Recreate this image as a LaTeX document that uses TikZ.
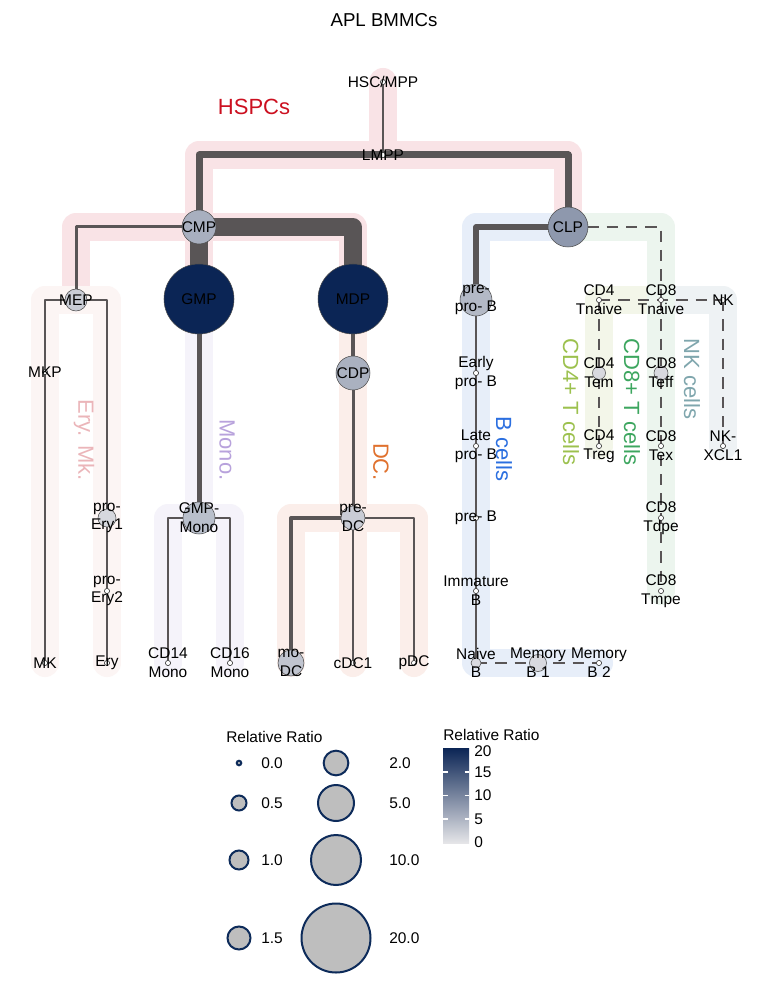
\documentclass[tikz,border=0pt]{standalone}
\usepackage{fontspec}
\setmainfont{Liberation Sans}
\pgfdeclarelayer{bg}
\pgfdeclarelayer{bands}
\pgfdeclarelayer{edges}
\pgfsetlayers{bg,bands,edges,main}
\definecolor{nv}{HTML}{0B2555}
\definecolor{lg}{HTML}{E5E5E8}
\definecolor{edgec}{HTML}{595556}
\definecolor{bHSPC}{HTML}{F9E3E6}
\definecolor{bEry}{HTML}{FCF5F4}
\definecolor{bMono}{HTML}{F5F3FA}
\definecolor{bDC}{HTML}{FBEEEA}
\definecolor{bB}{HTML}{E7EEF9}
\definecolor{bCDe}{HTML}{ECF5EE}
\definecolor{bCDf}{HTML}{F3F6E9}
\definecolor{bNK}{HTML}{EEF2F4}
\definecolor{cHSPC}{HTML}{CC1020}
\definecolor{cEry}{HTML}{EBB5B9}
\definecolor{cMono}{HTML}{B8A2DC}
\definecolor{cDC}{HTML}{E0712E}
\definecolor{cB}{HTML}{2B6FE0}
\definecolor{cCDf}{HTML}{9CC14E}
\definecolor{cCDe}{HTML}{3DA65F}
\definecolor{cNK}{HTML}{7FA6AD}
\definecolor{legfill}{HTML}{BEBEBE}
\definecolor{legline}{HTML}{0D2B5A}
\begin{document}
\begin{tikzpicture}[x=0.75pt,y=-0.75pt,
  cell/.style={circle, draw=black!70, line width=0.4pt, inner sep=0pt, minimum size=#1},
  dotnode/.style={cell=3.9pt, fill=white, draw=black!75, line width=0.5pt},
  lab/.style={font=\fontsize{11.6}{14}\selectfont, align=center, inner sep=0pt, text=black},
  band/.style={line width=21pt, line cap=round, line join=round},
  edge/.style={draw=edgec, line join=round},
  dedge/.style={draw=edgec, line width=1.9pt, dash pattern=on 8.5pt off 6pt},
  grp/.style={font=\fontsize{16.5}{19}\selectfont, rotate=-90, inner sep=0pt},
  legc/.style={circle, fill=legfill, draw=legline, line width=1.5pt, inner sep=0pt, minimum size=#1}]
\useasboundingbox (0,0) rectangle (768,998);
\begin{pgfonlayer}{bg}
\fill[white] (0,0) rectangle (768,998);
\end{pgfonlayer}

% title
\node[font=\fontsize{14}{16}\selectfont, inner sep=0pt] (title) at (384,20) {APL BMMCs};

% cells
\node[dotnode] (HSC) at (383,82) {};
\node[dotnode] (LMPP) at (383,155) {};
\node[cell=25.5pt, fill=nv!28!lg] (CMP) at (199,227) {};
\node[cell=30pt, fill=nv!40!lg] (CLP) at (568,227) {};
\node[cell=16.5pt, fill=nv!13!lg] (MEP) at (76,300) {};
\node[cell=52.5pt, fill=nv] (GMP) at (199,299) {};
\node[cell=52.5pt, fill=nv] (MDP) at (353,299) {};
\node[dotnode] (MKP) at (45,372) {};
\node[dotnode] (MK) at (45,663) {};
\node[cell=13.5pt, fill=nv!7!lg] (proEryA) at (107,518) {};
\node[dotnode] (proEryB) at (107,591) {};
\node[dotnode] (Ery) at (107,663) {};
\node[cell=24pt, fill=nv!20!lg] (GMPMono) at (199,518) {};
\node[dotnode] (CDfourteen) at (168,663) {};
\node[dotnode] (CDsixteen) at (230,663) {};
\node[cell=25.5pt, fill=nv!27!lg] (CDP) at (353,373) {};
\node[cell=18pt, fill=nv!13!lg] (preDC) at (353,518) {};
\node[cell=19.5pt, fill=nv!17!lg] (moDC) at (291,663) {};
\node[dotnode] (cDC) at (353,663) {};
\node[dotnode] (pDC) at (414,663) {};
\node[cell=24pt, fill=nv!23!lg] (preproB) at (476,300) {};
\node[dotnode] (EarlyB) at (476,373) {};
\node[dotnode] (LateB) at (476,446) {};
\node[dotnode] (preB) at (476,518) {};
\node[dotnode] (ImmB) at (476,591) {};
\node[cell=7.5pt, fill=nv!5!lg] (NaiveB) at (476,663) {};
\node[cell=12.75pt, fill=nv!6!lg] (MemA) at (538,663) {};
\node[dotnode] (MemB) at (599,663) {};
\node[dotnode] (CDfourN) at (599,300) {};
\node[dotnode] (CDeightN) at (661,300) {};
\node[dotnode] (NK) at (723,300) {};
\node[cell=9.75pt, fill=nv!6!lg] (CDfourEm) at (599,373) {};
\node[cell=10.5pt, fill=nv!6!lg] (CDeightEff) at (661,373) {};
\node[dotnode] (CDfourReg) at (599,446) {};
\node[dotnode] (CDeightEx) at (661,446) {};
\node[dotnode] (NKX) at (723,446) {};
\node[dotnode] (CDeightDpe) at (661,518) {};
\node[dotnode] (CDeightMpe) at (661,591) {};

% labels
\node[lab] (tHSC) at (HSC) {HSC/MPP};
\node[lab] (tLMPP) at (LMPP) {LMPP};
\node[lab] (tCMP) at (CMP) {CMP};
\node[lab] (tCLP) at (CLP) {CLP};
\node[lab] (tMEP) at (MEP) {MEP};
\node[lab] (tGMP) at (GMP) {GMP};
\node[lab] (tMDP) at (MDP) {MDP};
\node[lab] (tMKP) at (MKP) {MKP};
\node[lab] (tMK) at (MK) {MK};
\node[lab] (tproEryA) at (proEryA) {pro-\\Ery1};
\node[lab] (tproEryB) at (proEryB) {pro-\\Ery2};
\node[lab] (tEry) at (Ery) {Ery};
\node[lab] (tGMPMono) at (GMPMono) {GMP-\\Mono};
\node[lab] (tCDfourteen) at (CDfourteen) {CD14\\Mono};
\node[lab] (tCDsixteen) at (CDsixteen) {CD16\\Mono};
\node[lab] (tCDP) at (CDP) {CDP};
\node[lab] (tpreDC) at (preDC) {pre-\\DC};
\node[lab] (tmoDC) at (moDC) {mo-\\DC};
\node[lab] (tcDC) at (cDC) {cDC1};
\node[lab] (tpDC) at (pDC) {pDC};
\node[lab] (tpreproB) at (preproB) {pre-\\pro- B};
\node[lab] (tEarlyB) at (EarlyB) {Early\\pro- B};
\node[lab] (tLateB) at (LateB) {Late\\pro- B};
\node[lab] (tpreB) at (preB) {pre- B};
\node[lab] (tImmB) at (ImmB) {Immature\\B};
\node[lab] (tNaiveB) at (NaiveB) {Naive\\B};
\node[lab] (tMemA) at (MemA) {Memory\\B 1};
\node[lab] (tMemB) at (MemB) {Memory\\B 2};
\node[lab] (tCDfourN) at (CDfourN) {CD4\\Tnaive};
\node[lab] (tCDeightN) at (CDeightN) {CD8\\Tnaive};
\node[lab] (tNK) at (NK) {NK};
\node[lab] (tCDfourEm) at (CDfourEm) {CD4\\Tem};
\node[lab] (tCDeightEff) at (CDeightEff) {CD8\\Teff};
\node[lab] (tCDfourReg) at (CDfourReg) {CD4\\Treg};
\node[lab] (tCDeightEx) at (CDeightEx) {CD8\\Tex};
\node[lab] (tNKX) at (NKX) {NK-\\XCL1};
\node[lab] (tCDeightDpe) at (CDeightDpe) {CD8\\Tdpe};
\node[lab] (tCDeightMpe) at (CDeightMpe) {CD8\\Tmpe};

% group labels
\node[font=\fontsize{16.5}{19}\selectfont, text=cHSPC, inner sep=0pt] (gHSPC) at (254,107) {HSPCs};
\node[grp, text=cEry] (gEry) at (84,440) {Ery. Mk.};
\node[grp, text=cMono] (gMono) at (227,450) {Mono.};
\node[grp, text=cDC] (gDC) at (381,462) {DC.};
\node[grp, text=cB] (gB) at (504,449) {B cells};
\node[grp, text=cCDf] (gCDf) at (571,402) {CD4+ T cells};
\node[grp, text=cCDe] (gCDe) at (632,402) {CD8+ T cells};
\node[grp, text=cNK] (gNK) at (692,379) {NK cells};

% bands
\begin{pgfonlayer}{bands}
\draw[band, bHSPC] (HSC.center) -- (LMPP.center);
\draw[band, bHSPC] (CMP.center) |- (LMPP.center) -| (CLP.center);
\draw[band, bHSPC] (MEP.center) |- (CMP.center) -| (MDP.center);
\draw[band, bHSPC] (CMP.center) -- (GMP.center);
\draw[band, bEry] (MK.center) |- (MEP.center) -| (Ery.center);
\draw[band, bMono] (GMP.center) -- (GMPMono.center);
\draw[band, bMono] (CDfourteen.center) |- (GMPMono.center) -| (CDsixteen.center);
\draw[band, bDC] (MDP.center) -- (cDC.center);
\draw[band, bDC] (moDC.center) |- (preDC.center) -| (pDC.center);
\draw[band, bB] (CLP.center) -| (NaiveB.center) -- (MemB.center);
\draw[band, bCDf] (CDeightN.center) -| (CDfourReg.center);
\draw[band, bNK] (CDeightN.center) -| (NKX.center);
\draw[band, bCDe] (CLP.center) -| (CDeightMpe.center);
\end{pgfonlayer}

% edges
\begin{pgfonlayer}{edges}
\draw[edge, line width=1.5pt] (HSC.center) -- (LMPP.center);
\draw[edge, line width=5.25pt] (CMP.center) |- (LMPP.center) -| (CLP.center);
\draw[edge, line width=2.25pt] (CMP.center) -| (MEP.center);
\draw[edge, line width=13.5pt] (CMP.center) -- (GMP.center);
\draw[edge, line width=13pt] (CMP.center) -| (MDP.center);
\draw[edge, line width=1.5pt] (MK.center) |- (MEP.center) -| (Ery.center);
\draw[edge, line width=3.75pt] (GMP.center) -- (GMPMono.center);
\draw[edge, line width=1.5pt] (CDfourteen.center) |- (GMPMono.center) -| (CDsixteen.center);
\draw[edge, line width=3.5pt] (MDP.center) -- (CDP.center);
\draw[edge, line width=2.25pt] (CDP.center) -- (preDC.center);
\draw[edge, line width=3pt] (preDC.center) -| (moDC.center);
\draw[edge, line width=1.5pt] (preDC.center) -- (cDC.center);
\draw[edge, line width=1.5pt] (preDC.center) -| (pDC.center);
\draw[edge, line width=4pt] (CLP.center) -| (preproB.center);
\draw[edge, line width=1.5pt] (preproB.center) -- (EarlyB.center) -- (LateB.center) -- (preB.center) -- (ImmB.center) -- (NaiveB.center);
\draw[dedge] (NaiveB.center) -- (MemA.center) -- (MemB.center);
\draw[dedge] (CLP.center) -| (CDeightN.center);
\draw[dedge] (CDeightN.center) -- (CDeightEff.center) -- (CDeightEx.center) -- (CDeightDpe.center) -- (CDeightMpe.center);
\draw[dedge] (CDfourN.center) -- (CDeightN.center) -- (NK.center);
\draw[dedge] (CDfourN.center) -- (CDfourEm.center) -- (CDfourReg.center);
\draw[dedge] (NK.center) -- (NKX.center);
\end{pgfonlayer}

% size legend
\node[lab, anchor=west] (legTa) at (226,737) {Relative Ratio};
\node[legc=3.4pt] (la) at (239,763) {};
\node[legc=11.25pt] (lb) at (239,803) {};
\node[legc=14.25pt] (lc) at (239,860) {};
\node[legc=17.25pt] (ld) at (239,938) {};
\node[legc=18.5pt] (le) at (336,763) {};
\node[legc=27pt] (lf) at (336,803) {};
\node[legc=37.5pt] (lg) at (336,860) {};
\node[legc=51.75pt] (lh) at (336,938) {};
\node[lab, anchor=west] (tla) at (261,763) {0.0};
\node[lab, anchor=west] (tlb) at (261,803) {0.5};
\node[lab, anchor=west] (tlc) at (261,860) {1.0};
\node[lab, anchor=west] (tld) at (261,938) {1.5};
\node[lab, anchor=west] (tle) at (389,763) {2.0};
\node[lab, anchor=west] (tlf) at (389,803) {5.0};
\node[lab, anchor=west] (tlg) at (389,860) {10.0};
\node[lab, anchor=west] (tlh) at (389,938) {20.0};

% colour bar
\node[lab, anchor=west] (legTb) at (443,735) {Relative Ratio};
\node[top color=nv, bottom color=lg, minimum width=19.5pt, minimum height=71.25pt, inner sep=0pt, draw=none] (cbar) at (456,795.5) {};
\foreach \yy in {772,795.5,819}{
  \draw[white, line width=0.8pt] (443,\yy) -- (447.5,\yy);
  \draw[white, line width=0.8pt] (464.5,\yy) -- (469,\yy);
}
\node[lab, anchor=west] (cb20) at (474,751) {20};
\node[lab, anchor=west] (cb15) at (474,772) {15};
\node[lab, anchor=west] (cb10) at (474,795.5) {10};
\node[lab, anchor=west] (cb5) at (474,819) {5};
\node[lab, anchor=west] (cb0) at (474,842) {0};
\end{tikzpicture}
\end{document}
